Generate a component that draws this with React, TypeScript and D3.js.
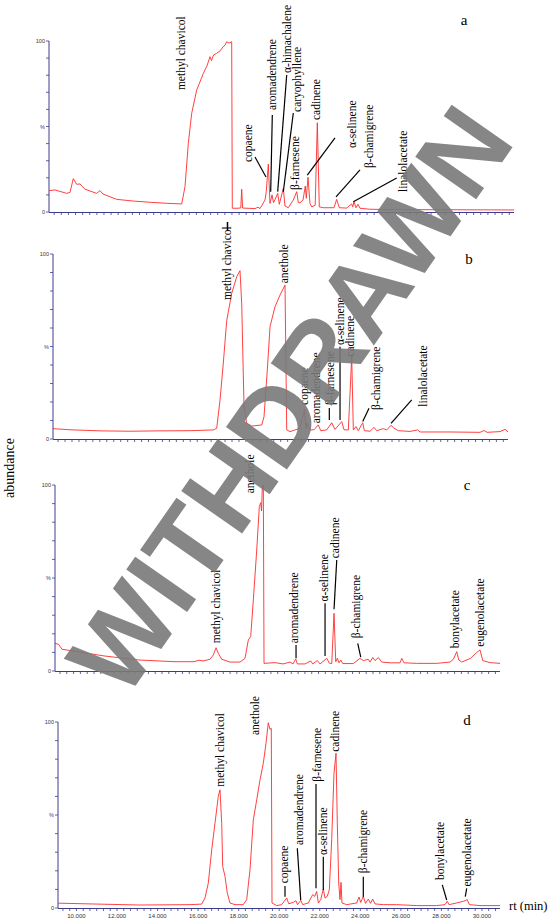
import React from "react";
import * as d3 from "d3";

// retention time window shared by the four runs (min)
const rtDomain: [number, number] = [9.09, 30.89];

// ---- run a ----
const rtA = [9.104, 9.371, 9.92, 10.075, 10.229, 10.389, 10.543, 10.778, 11.326, 11.481, 11.622, 12.264, 13.042, 13.825, 14.608, 15.311, 15.466, 15.621, 15.78, 16.014, 16.324, 16.497, 16.638, 16.708, 16.802, 16.952, 17.107, 17.262, 17.341, 17.421, 17.529, 17.655, 17.684, 17.951, 18.082, 18.124, 18.166, 18.748, 18.889, 18.983, 19.217, 19.277, 19.371, 19.451, 19.545, 19.615, 19.7, 19.812, 19.887, 20.075, 20.154, 20.309, 20.543, 20.703, 20.778, 20.858, 20.998, 21.106, 21.153, 21.233, 21.326, 21.406, 21.57, 21.669, 21.762, 21.95, 22.264, 22.45, 22.578, 22.7, 23.047, 23.155, 23.281, 23.328, 23.389, 23.483, 23.577, 23.67, 24.139, 25.546, 30.89];
const abA = [12.5, 12.9, 10.9, 11.5, 19.5, 16.2, 16.4, 13.3, 10.9, 12.5, 10.5, 7.4, 6.4, 5.7, 5.1, 4.7, 14.8, 40, 57.7, 71.3, 81, 85.5, 90.8, 88.5, 91.8, 92.8, 94.2, 96.7, 97.5, 99.6, 98.8, 99.6, 2.2, 2.2, 2.4, 13.3, 2.3, 2.0, 2.8, 2.0, 7.0, 12.0, 28.0, 5.0, 10.0, 5.5, 7.6, 10.9, 4.5, 13.8, 3.5, 2.5, 7.0, 11.9, 5.5, 5.4, 7.0, 15.2, 8.0, 20.3, 5.0, 3.0, 4.0, 52.2, 3.0, 2.5, 2.5, 2.5, 7.4, 2.5, 2.3, 3.5, 4.7, 3.0, 6.0, 2.5, 4.5, 2.2, 1.6, 1.4, 1.2];
const namesA = ["methyl chavicol", "copaene", "aromadendrene", "α-himachalene", "caryophyllene", "β-farnesene", "cadinene", "α-selinene", "β-chamigrene", "linalolacetate"];
const nameRtA = [15.325, 18.466, 19.592, 20.295, 20.764, 20.67, 21.655, 23.342, 24.139, 25.733];
const nameAbA = [71.3, 29.2, 59.6, 81.3, 58.5, 12.9, 53.8, 37.4, 25.7, 11.7];
const leadersA = [
  [18.748, 32.2, 19.264, 20.5],
  [19.559, 56.7, 19.484, 11.9],
  [20.234, 80.1, 19.812, 11.9],
  [20.543, 57.9, 20.075, 11.9],
  [22.498, 43.3, 21.2, 21.6],
  [23.67, 24.6, 22.545, 8.9],
  [25.391, 19.9, 23.357, 6.0],
];

// ---- run b ----
const rtB = [9.09, 9.905, 11.342, 12.78, 14.217, 15.654, 16.771, 16.934, 17.092, 17.25, 17.413, 17.653, 17.892, 18.05, 18.132, 18.242, 18.371, 18.611, 19.09, 19.2, 19.358, 19.488, 19.727, 19.967, 20.206, 20.288, 20.446, 20.925, 21.131, 21.213, 21.275, 21.404, 21.596, 21.802, 21.917, 22.204, 22.444, 22.602, 22.923, 23.033, 23.24, 23.402, 23.479, 23.608, 23.719, 23.929, 24.006, 24.279, 24.471, 24.6, 24.917, 25.08, 25.286, 25.43, 25.636, 26.196, 26.565, 26.675, 28.113, 29.55, 29.742, 29.885, 30.508, 30.748, 30.89];
const abB = [5.6, 5.0, 4.4, 4.2, 4.4, 4.5, 4.9, 5.8, 21, 41, 64, 78.7, 87.7, 91, 73, 17.5, 8.5, 7.0, 7.6, 12, 37.3, 60.7, 71.5, 77.8, 83.2, 4.9, 4.0, 5.8, 16, 5.8, 8.5, 4.9, 5.0, 7.6, 4.5, 4.9, 8.8, 5.2, 9.4, 5.0, 4.9, 44.5, 4.9, 6.7, 4.5, 8.8, 4.5, 4.2, 6.3, 4.5, 5.6, 4.9, 7.4, 5.8, 4.5, 4.1, 4.9, 3.8, 3.8, 3.6, 4.6, 3.6, 4.0, 5.2, 3.8];
const namesB = ["methyl chavicol", "anethole", "copaene", "aromadendrene", "β-farnesene", "α-selinene", "cadinene", "β-chamigrene", "linalolacetate"];
const nameRtB = [17.442, 20.173, 21.131, 21.725, 22.396, 22.875, 23.369, 24.6, 26.833];
const nameAbB = [75.1, 84.2, 18.4, 8.5, 18.4, 50.8, 44.5, 15.7, 17.5];
const leadersB = [
  [22.329, 16.8, 22.329, 10.3],
  [22.842, 49.9, 22.842, 10.3],
  [24.231, 16.6, 23.93, 9.4],
  [26.277, 21.1, 25.286, 8.5],
];

// ---- run c ----
const rtC = [9.09, 9.261, 9.433, 10.119, 11.491, 13.206, 14.969, 15.9, 16.145, 16.341, 16.684, 16.846, 16.978, 17.091, 17.258, 17.664, 18.154, 18.399, 18.561, 18.678, 18.806, 18.972, 19.1, 19.168, 19.208, 19.247, 19.296, 19.33, 19.869, 20.261, 20.604, 20.751, 20.883, 20.962, 21.339, 21.618, 21.716, 21.941, 22.074, 22.402, 22.53, 22.647, 22.76, 22.843, 22.922, 23.005, 23.088, 23.186, 23.706, 24.034, 24.195, 24.44, 24.523, 24.656, 24.769, 24.93, 25.097, 25.503, 25.993, 26.077, 26.189, 26.812, 27.792, 28.443, 28.605, 28.772, 28.87, 29.017, 29.443, 29.751, 29.913, 30.045, 30.403, 30.893];
const abC = [14.8, 14.4, 11.7, 10.5, 8.1, 5.9, 5.0, 5.0, 5.8, 5.4, 6.3, 8.6, 12.5, 9.5, 6.3, 4.8, 4.8, 6.8, 16.7, 18.5, 38.2, 65, 88.4, 90.5, 86, 99, 100, 4.1, 4.5, 3.8, 4.8, 3.8, 6.5, 3.8, 3.8, 5.4, 3.8, 5.6, 3.8, 6.8, 4.2, 4.0, 31, 5.0, 6.8, 4.4, 5.9, 4.0, 4.0, 6.8, 5.6, 6.3, 4.8, 7.3, 5.6, 7.2, 4.8, 4.4, 4.4, 6.8, 4.4, 4.1, 4.1, 4.8, 6.3, 10.4, 5.9, 4.8, 6.8, 10, 11.3, 5.6, 4.5, 4.1];
const namesC = ["methyl chavicol", "anethole", "aromadendrene", "α-selinene", "cadinene", "β-chamigrene", "bonylacetate", "eugenolacetate"];
const nameRtC = [17.013, 18.693, 20.849, 22.319, 22.858, 23.872, 28.688, 29.913];
const nameAbC = [14.9, 95.5, 14.9, 37.3, 60.6, 17.6, 12.2, 13.1];
const leadersC = [
  [20.898, 14.0, 20.898, 6.8],
  [22.319, 36.4, 22.319, 8.1],
  [22.892, 59.7, 22.76, 33.2],
  [23.921, 14.9, 24.068, 7.4],
];

// ---- run d ----
const rtD = [9.105, 10.668, 13.134, 15.6, 16.177, 16.34, 16.503, 16.671, 16.833, 16.996, 17.08, 17.164, 17.213, 17.327, 17.44, 17.573, 17.82, 18.229, 18.397, 18.56, 18.723, 18.89, 19.053, 19.216, 19.349, 19.462, 19.546, 19.61, 19.645, 19.877, 20.123, 20.37, 20.469, 20.695, 20.829, 20.903, 21.06, 21.159, 21.435, 21.652, 21.751, 21.85, 21.929, 22.047, 22.175, 22.259, 22.372, 22.471, 22.589, 22.703, 22.802, 22.866, 22.935, 22.999, 23.048, 23.097, 23.329, 23.822, 23.936, 24.02, 24.148, 24.257, 24.394, 24.503, 24.611, 24.725, 25.134, 25.795, 26.782, 27.768, 28.177, 28.291, 28.375, 28.755, 29.08, 29.277, 29.376, 29.904, 30.89];
const abD = [2.6, 2.2, 1.6, 1.8, 2.1, 5.4, 13.4, 31.3, 45.6, 60, 63.5, 45.6, 22.4, 17, 8, 2.7, 1.8, 1.8, 4.5, 20.6, 47.4, 58.1, 68.9, 77.8, 88.6, 99.6, 96, 96.6, 2.7, 1.3, 1.8, 5.4, 2.3, 3.0, 3.9, 1.8, 4.1, 1.8, 2.7, 7.2, 6.3, 8.9, 2.7, 4.5, 10.2, 5.4, 6.3, 9.8, 36.7, 72.5, 83.2, 45.6, 13.4, 4.5, 13.8, 2.7, 1.8, 2.7, 5.9, 3.0, 6.3, 2.5, 4.8, 2.5, 4.8, 2.2, 1.8, 1.8, 1.3, 1.3, 1.8, 3.6, 1.8, 2.7, 3.6, 4.5, 1.8, 1.3, 1.3];
const namesD = ["methyl chavicol", "anethole", "copaene", "aromadendrene", "β-farnesene", "α-selinene", "cadinene", "β-chamigrene", "bonylacetate", "eugenolacetate"];
const nameRtD = [17.129, 18.841, 20.251, 21.026, 21.899, 22.175, 22.787, 24.148, 27.965, 29.277];
const nameAbD = [65.2, 93.0, 13.3, 33.9, 67.9, 28.5, 84.0, 18.7, 15.1, 11.5];
const leadersD = [
  [20.286, 11.8, 20.286, 6.1],
  [20.893, 32.1, 21.061, 4.3],
  [21.815, 66.7, 21.815, 10.6],
  [22.175, 27.6, 22.175, 9.7],
  [24.148, 16.8, 24.148, 6.1],
  [28.044, 12.4, 28.261, 4.3],
  [29.247, 10.6, 29.178, 6.1],
];

const xTickValues = [10, 12, 14, 16, 18, 20, 22, 24, 26, 28, 30];
const xTickLabels = ["10.000", "12.000", "14.000", "16.000", "18.000", "20.000", "22.000", "24.000", "26.000", "28.000", "30.000"];
const yTickValues = [0, 10, 20, 30, 40, 50, 60, 70, 80, 90, 100];

// page boxes of the four stacked panels
const panels = [
  { id: "a", left: 49, right: 514, base: 212, top: 41, letterX: 464, letterY: 25, rt: rtA, ab: abA, names: namesA, nameRt: nameRtA, nameAb: nameAbA, leaders: leadersA },
  { id: "b", left: 53, right: 508, base: 439, top: 254, letterX: 469, letterY: 264, rt: rtB, ab: abB, names: namesB, nameRt: nameRtB, nameAb: nameAbB, leaders: leadersB },
  { id: "c", left: 55, right: 500, base: 671, top: 485, letterX: 467, letterY: 490, rt: rtC, ab: abC, names: namesC, nameRt: nameRtC, nameAb: nameAbC, leaders: leadersC },
  { id: "d", left: 58, right: 500, base: 908, top: 722, letterX: 467, letterY: 725, rt: rtD, ab: abD, names: namesD, nameRt: nameRtD, nameAb: nameAbD, leaders: leadersD },
];

const axisBlue = "#3c3c8e";
const traceRed = "#ff2b2b";
const serif = "'Liberation Serif', 'Times New Roman', serif";
const sans = "'Liberation Sans', Arial, sans-serif";

const Panel: React.FC<{ p: (typeof panels)[number]; last: boolean }> = ({ p, last }) => {
  const x = d3.scaleLinear().domain(rtDomain).range([p.left, p.right]);
  const y = d3.scaleLinear().domain([0, 100]).range([p.base, p.top]);
  const line = d3
    .line<number>()
    .x((_, i) => x(p.rt[i]))
    .y((d) => y(d));
  // minor ticks every 20 s
  const minor = d3.range(-3, 64).map((i) => 10 + i / 3).filter((t) => t >= rtDomain[0] && t <= rtDomain[1]);

  return (
    <g>
      <path d={line(p.ab) || ""} fill="none" stroke={traceRed} strokeWidth={0.9} strokeLinejoin="round" />
      {/* axes */}
      <line x1={p.left} x2={p.left} y1={p.base} y2={p.top} stroke={axisBlue} strokeWidth={1} />
      <line x1={p.left} x2={p.right} y1={p.base + 0.5} y2={p.base + 0.5} stroke={axisBlue} strokeWidth={1} />
      {yTickValues.map((v) => (
        <line key={v} x1={p.left - 3} x2={p.left} y1={y(v)} y2={y(v)} stroke={axisBlue} strokeWidth={0.8} />
      ))}
      {minor.map((t, i) => (
        <line key={i} x1={x(t)} x2={x(t)} y1={p.base + 1} y2={p.base + 3} stroke={axisBlue} strokeWidth={0.8} />
      ))}
      <text x={p.left - 4} y={y(100) + 2} fontSize={5.5} fontFamily={sans} fill="#333" textAnchor="end">100</text>
      <text x={p.left - 4} y={y(50) + 2} fontSize={5.5} fontFamily={sans} fill={axisBlue} textAnchor="end">%</text>
      <text x={p.left - 4} y={y(0) + 2} fontSize={5.5} fontFamily={sans} fill="#333" textAnchor="end">0</text>
      {last &&
        xTickValues.map((t, i) => (
          <text key={t} x={x(t)} y={p.base + 10} fontSize={6} fontFamily={sans} fill="#333" textAnchor="middle">
            {xTickLabels[i]}
          </text>
        ))}
      {/* peak labels */}
      {p.names.map((n, i) => (
        <text
          key={n + i}
          transform={`translate(${x(p.nameRt[i])},${y(p.nameAb[i])}) rotate(-90)`}
          dy="0.3em"
          fontSize={11.5}
          fontFamily={serif}
          fill="#000"
        >
          {n}
        </text>
      ))}
      {p.leaders.map((s, i) => (
        <line key={i} x1={x(s[0])} y1={y(s[1])} x2={x(s[2])} y2={y(s[3])} stroke="#000" strokeWidth={1.2} />
      ))}
      <text x={p.letterX} y={p.letterY} fontSize={15} fontFamily={serif} textAnchor="middle">{p.id}</text>
    </g>
  );
};

const App: React.FC = () => {
  return (
    <div style={{ position: "absolute", left: 0, top: 0 }}>
      <svg width={550} height={921} style={{ display: "block", background: "#fff" }}>
        {panels.map((p, i) => (
          <Panel key={p.id} p={p} last={i === panels.length - 1} />
        ))}
        <line x1={227.5} x2={227.5} y1={222} y2={230} stroke="#000" strokeWidth={1.5} />
        <text transform="translate(14,468) rotate(-90)" textAnchor="middle" fontSize={14} fontFamily={serif}>abundance</text>
        <text x={509} y={910} fontSize={12.5} fontFamily={serif}>rt (min)</text>
        {/* watermark */}
        <text
          transform="translate(290,400) rotate(-55)"
          textAnchor="middle"
          dominantBaseline="central"
          fontSize={108}
          fontFamily={sans}
          fontWeight="bold"
          fill="#7a7a7a"
          opacity={0.9}
        >
          WITHDRAWN
        </text>
      </svg>
    </div>
  );
};

export default App;
